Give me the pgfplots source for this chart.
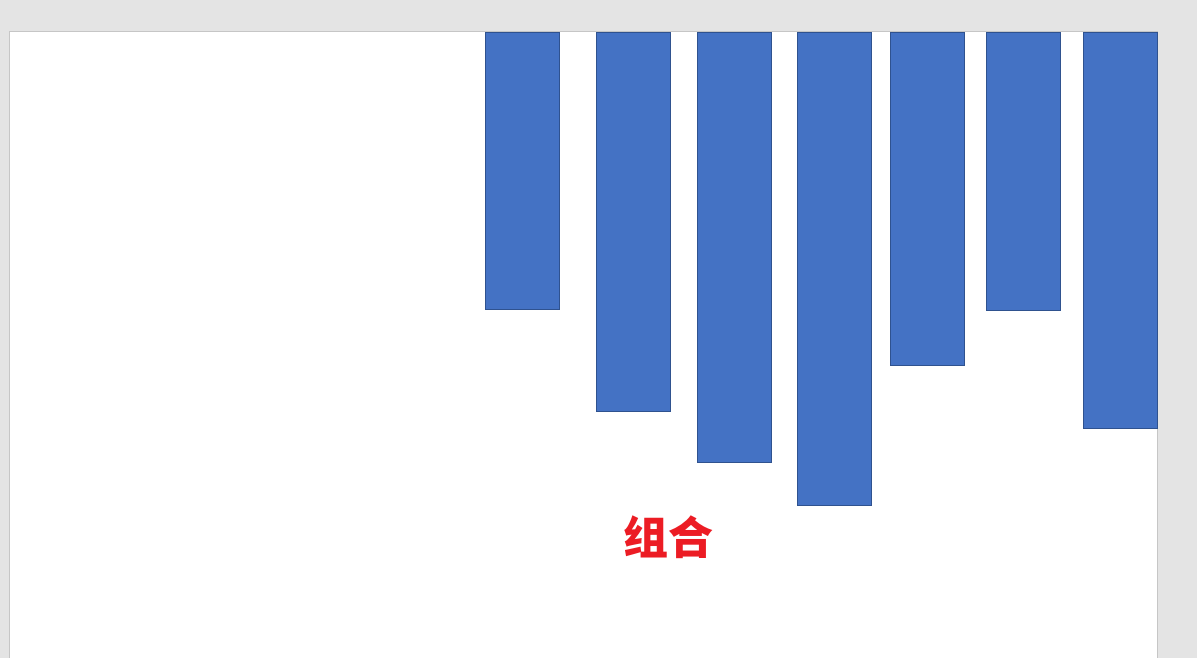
\documentclass[border=0pt]{standalone}
\usepackage{pgfplots}
\pgfplotsset{compat=1.18}
\usepackage{fontspec}
\newfontfamily\cjk{Noto Sans CJK SC}
\definecolor{bggray}{HTML}{E4E4E4}
\definecolor{slideedge}{HTML}{C6C6C6}
\definecolor{barfill}{HTML}{4472C4}
\definecolor{baredge}{HTML}{2F528F}
\definecolor{titlered}{HTML}{EC1C24}
\begin{document}
\begin{tikzpicture}
\begin{axis}[
  scale only axis,
  width=11.97cm, height=6.58cm,
  xmin=0, xmax=1197,
  ymin=-33, ymax=625,
  y dir=reverse,
  hide axis,
  axis background/.style={fill=bggray},
  clip=true,
]
% slide
\addplot[fill=white, draw=slideedge, line width=0.1mm] coordinates {(9.5,640) (9.5,-1.5) (1157.5,-1.5) (1157.5,640)} -- cycle;
% bars (pixel centres, depth below the top edge)
\addplot[ybar, bar width=74, bar shift=0pt, fill=barfill, draw=baredge, line width=0.1mm]
coordinates {
(522,277)
(633,379)
(734,430)
(834,472)
(927,333)
(1023,278)
(1120,396)
};
\node[text=titlered, font=\cjk\bfseries\fontsize{12.8}{14}\selectfont] at (axis cs:668,504) {组合};
\end{axis}
\end{tikzpicture}
\end{document}
